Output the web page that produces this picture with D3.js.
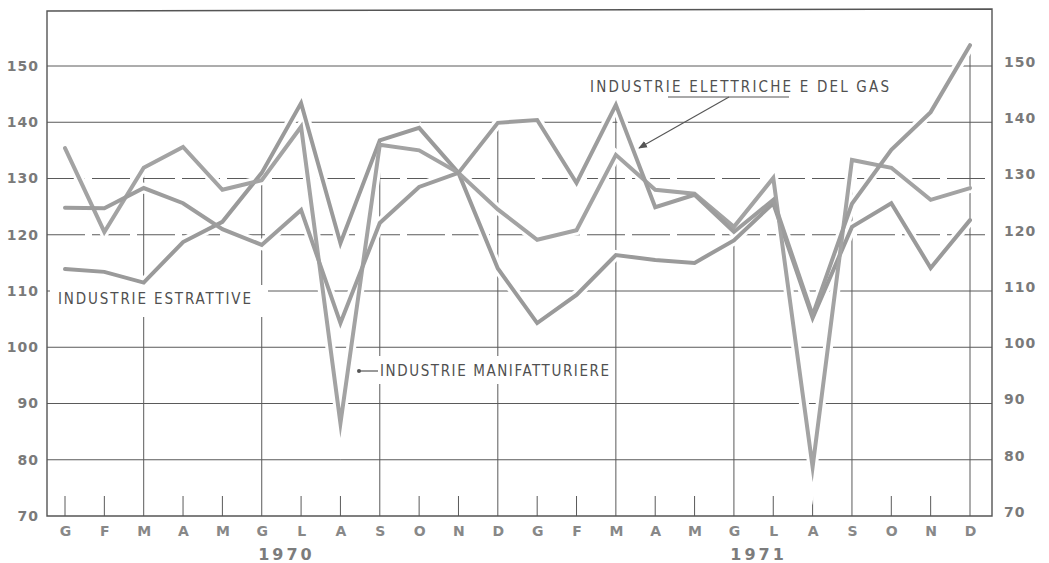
<!DOCTYPE html>
<html>
<head>
<meta charset="utf-8">
<script src="https://cdn.jsdelivr.net/npm/d3@7"></script>
<style>
  html, body { margin: 0; padding: 0; background: #ffffff; }
  svg { display: block; }
</style>
</head>
<body>
<svg id="chart" width="1049" height="563"></svg>
<script>
// ---- data ----
const months = ["G","F","M","A","M","G","L","A","S","O","N","D","G","F","M","A","M","G","L","A","S","O","N","D"];
const years = ["1970", "1971"];
const yTicks = [70, 80, 90, 100, 110, 120, 130, 140, 150];
const manifatturiere = [135.4,120.5,131.9,135.6,128.0,129.7,139.2,86.5,136.0,135.0,131.0,124.5,
                        119.1,120.8,134.2,128.0,127.3,121.4,130.1,78.7,133.3,131.9,126.2,128.3];
const estrattive     = [113.9,113.4,111.5,118.7,122.3,131.0,143.4,118.5,136.8,139.0,131.0,114.0,
                        104.3,109.3,116.4,115.5,115.0,119.0,125.6,105.2,121.4,125.6,114.1,122.6];
const elettriche     = [124.8,124.7,128.3,125.6,121.0,118.2,124.4,104.3,122.1,128.5,131.0,139.9,
                        140.4,129.2,143.1,124.9,127.1,120.5,126.2,105.7,125.5,135.1,141.8,153.7];
const seriesNames = ["INDUSTRIE ESTRATTIVE", "INDUSTRIE MANIFATTURIERE", "INDUSTRIE ELETTRICHE E DEL GAS"];

// ---- layout ----
const svg = d3.select("#chart");
const frame = { left: 47, right: 992, top: 11, bottom: 516 };
const x = d3.scalePoint().domain(d3.range(months.length)).range([65, 970]);
const y = d3.scaleLinear().domain([70, 150]).range([516, 66]);
const gridColor = "#5a5a5a";
const textColor = "#7a7a7a";

const series = [
  { name: seriesNames[0], values: estrattive, color: "#9a9a9a" },
  { name: seriesNames[1], values: manifatturiere, color: "#a3a3a3" },
  { name: seriesNames[2], values: elettriche, color: "#9d9d9d" }
];

// horizontal grid
const gGrid = svg.append("g");
gGrid.selectAll("line.h").data(yTicks.filter(v => v > 70)).join("line")
  .attr("x1", frame.left).attr("x2", frame.right)
  .attr("y1", d => y(d)).attr("y2", d => y(d))
  .attr("stroke", gridColor).attr("stroke-width", 1)
  .attr("stroke-dasharray", d => (d === 120 || d === 130) ? "38,7" : null);

// vertical grid (quarterly), starting just under the data
const quarterIdx = d3.range(2, months.length, 3);
gGrid.selectAll("line.v").data(quarterIdx).join("line")
  .attr("x1", d => x(d)).attr("x2", d => x(d))
  .attr("y1", d => y(d3.max(series, s => s.values[d])) + 4)
  .attr("y2", frame.bottom)
  .attr("stroke", gridColor).attr("stroke-width", 1);

// small month ticks
gGrid.selectAll("line.t").data(d3.range(months.length).filter(i => !quarterIdx.includes(i))).join("line")
  .attr("x1", d => x(d)).attr("x2", d => x(d))
  .attr("y1", frame.bottom - 20).attr("y2", frame.bottom)
  .attr("stroke", gridColor).attr("stroke-width", 1);

// frame
const gFrame = svg.append("g").attr("stroke", "#555").attr("stroke-width", 1.4).attr("fill", "none");
gFrame.append("path")
  .attr("d", `M${frame.left},${frame.bottom} L${frame.left},${frame.top} L${frame.right},${frame.top - 2} L${frame.right},${frame.bottom} Z`);

// label backgrounds (breaks in the grid under the lettering)
svg.append("rect").attr("x", 50).attr("y", 285).attr("width", 218).attr("height", 32).attr("fill", "#fff");
svg.append("rect").attr("x", 377).attr("y", 356).attr("width", 236).attr("height", 28).attr("fill", "#fff");
svg.append("rect").attr("x", 585).attr("y", 74).attr("width", 310).attr("height", 24).attr("fill", "#fff");

// data lines
const line = d3.line().x((d, i) => x(i)).y(d => y(d));
const gLines = svg.append("g").attr("fill", "none");
gLines.selectAll("path.halo").data(series).join("path")
  .attr("d", d => line(d.values))
  .attr("stroke", "#fff").attr("stroke-width", 10)
  .attr("stroke-linejoin", "miter").attr("stroke-miterlimit", 10);
gLines.selectAll("path.s").data(series).join("path")
  .attr("d", d => line(d.values))
  .attr("stroke", d => d.color).attr("stroke-width", 4)
  .attr("stroke-linejoin", "miter").attr("stroke-miterlimit", 10)
  .attr("stroke-linecap", "round");

// left axis
const axL = svg.append("g").attr("transform", `translate(39,0)`)
  .call(d3.axisLeft(y).tickValues(yTicks).tickSize(0).tickPadding(0));
axL.select(".domain").remove();
axL.selectAll("text").attr("font-family", "DejaVu Sans, sans-serif").attr("font-weight", "bold")
  .attr("font-size", 14).attr("letter-spacing", "1px").attr("fill", textColor);

// right axis
const axR = svg.append("g").attr("transform", `translate(1004,-4)`)
  .call(d3.axisRight(y).tickValues(yTicks).tickSize(0).tickPadding(0));
axR.select(".domain").remove();
axR.selectAll("text").attr("font-family", "DejaVu Sans, sans-serif").attr("font-weight", "bold")
  .attr("font-size", 14).attr("letter-spacing", "1px").attr("fill", textColor);

// month labels
const axB = svg.append("g").attr("transform", `translate(0,${frame.bottom})`)
  .call(d3.axisBottom(x).tickSize(0).tickPadding(10).tickFormat(i => months[i]));
axB.select(".domain").remove();
axB.selectAll("text").attr("font-family", "DejaVu Sans, sans-serif").attr("font-weight", "bold")
  .attr("font-size", 14).attr("fill", "#888");

// year labels
svg.selectAll("text.year").data(years).join("text")
  .attr("class", "year")
  .attr("x", (d, i) => (x(i * 12 + 5) + x(i * 12 + 6)) / 2 + 5)
  .attr("y", 560)
  .attr("text-anchor", "middle")
  .attr("font-family", "DejaVu Sans, sans-serif").attr("font-weight", "bold")
  .attr("font-size", 16).attr("letter-spacing", "3px").attr("fill", "#7c7c7c")
  .text(d => d);

// annotations
const annFont = "DejaVu Sans Condensed, DejaVu Sans, sans-serif";
function ann(txt, ax, ay, len) {
  return svg.append("text").attr("x", ax).attr("y", ay)
    .attr("font-family", annFont).attr("font-size", 15).attr("fill", "#505050")
    .attr("letter-spacing", "1px")
    .attr("textLength", len).attr("lengthAdjust", "spacing")
    .text(txt);
}
ann(seriesNames[0], 58, 304, 194);
ann(seriesNames[1], 380, 376, 230);
ann(seriesNames[2], 590, 92, 300);

// manifatturiere pointer
svg.append("circle").attr("cx", 359).attr("cy", 371).attr("r", 2).attr("fill", "#555");
svg.append("line").attr("x1", 359).attr("y1", 371).attr("x2", 378).attr("y2", 371)
  .attr("stroke", "#555").attr("stroke-width", 1.2);

// elettriche underline + arrow
svg.append("line").attr("x1", 668).attr("y1", 97).attr("x2", 789).attr("y2", 97)
  .attr("stroke", "#555").attr("stroke-width", 1.2);
svg.append("defs").append("marker").attr("id", "arr")
  .attr("viewBox", "0 0 10 10").attr("refX", 9).attr("refY", 5)
  .attr("markerWidth", 8).attr("markerHeight", 8).attr("orient", "auto")
  .append("path").attr("d", "M0,1 L10,5 L0,9 Z").attr("fill", "#555");
svg.append("line").attr("x1", 729).attr("y1", 97).attr("x2", 639).attr("y2", 148)
  .attr("stroke", "#555").attr("stroke-width", 1.1).attr("marker-end", "url(#arr)");
</script>
</body>
</html>
